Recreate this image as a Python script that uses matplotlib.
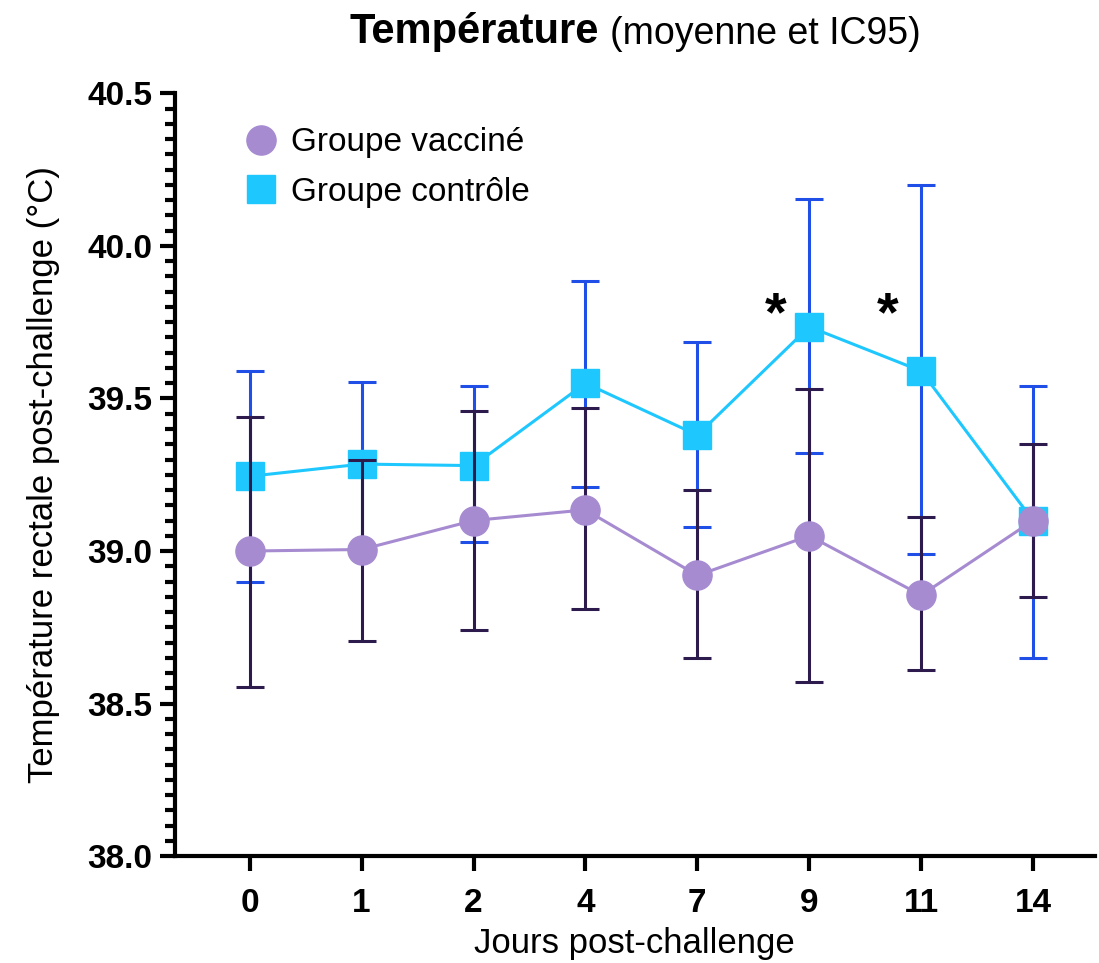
import matplotlib.pyplot as plt
from matplotlib.ticker import MultipleLocator
from matplotlib.lines import Line2D
import numpy as np

plt.rcParams['font.family'] = ['Liberation Sans', 'DejaVu Sans']

days = ['0', '1', '2', '4', '7', '9', '11', '14']

vacc_mean = [39.00, 39.005, 39.10, 39.135, 38.92, 39.05, 38.855, 39.10]
vacc_low = [38.555, 38.705, 38.74, 38.81, 38.65, 38.57, 38.61, 38.85]
vacc_high = [39.44, 39.30, 39.46, 39.47, 39.20, 39.53, 39.11, 39.35]

ctrl_mean = [39.245, 39.285, 39.28, 39.55, 39.38, 39.735, 39.59, 39.10]
ctrl_low = [38.90, 39.015, 39.03, 39.21, 39.08, 39.32, 38.99, 38.65]
ctrl_high = [39.59, 39.555, 39.54, 39.885, 39.685, 40.155, 40.20, 39.54]

# significance stars (day index, height)
star_idx = [5, 6]
star_y = 39.77

x = np.arange(len(days))
vm = np.array(vacc_mean)
cm = np.array(ctrl_mean)
v_err = [vm - np.array(vacc_low), np.array(vacc_high) - vm]
c_err = [cm - np.array(ctrl_low), np.array(ctrl_high) - cm]

c_vacc, c_ctrl = '#a68bd1', '#1ec8ff'

fig = plt.figure(figsize=(10.99, 9.63), dpi=100)
ax = fig.add_axes([0.159, 0.111, 0.837, 0.792])

ax.errorbar(x, cm, yerr=c_err, fmt='none', ecolor='#1f4fe6', elinewidth=2.2,
            capsize=10, capthick=2.2, zorder=1)
ax.plot(x, cm, '-', color=c_ctrl, lw=2.2, marker='s', ms=20,
        mec=c_ctrl, mfc=c_ctrl, zorder=2)
ax.errorbar(x, vm, yerr=v_err, fmt='none', ecolor='#2d1b4e', elinewidth=2.2,
            capsize=10, capthick=2.2, zorder=3)
ax.plot(x, vm, '-', color=c_vacc, lw=2.2, marker='o', ms=21,
        mec=c_vacc, mfc=c_vacc, zorder=4)

for i in star_idx:
    ax.text(x[i] - 0.3, star_y, '*', fontsize=40, fontweight='bold',
            ha='center', va='center')

ax.set_xlim(-0.67, 7.55)
ax.set_ylim(38.0, 40.5)
ax.set_xticks(x)
ax.set_xticklabels(days, fontsize=24, fontweight='bold')
ax.yaxis.set_major_locator(MultipleLocator(0.5))
ax.yaxis.set_minor_locator(MultipleLocator(0.05))
ax.set_yticks(ax.get_yticks())
ax.set_yticklabels([f'{v:.1f}' for v in ax.get_yticks()], fontsize=24, fontweight='bold')
ax.set_ylim(38.0, 40.5)

for sp in ['top', 'right']:
    ax.spines[sp].set_visible(False)
for sp in ['left', 'bottom']:
    ax.spines[sp].set_linewidth(3)
ax.tick_params(axis='both', which='major', length=11, width=3)
ax.tick_params(axis='x', which='major', pad=12)
ax.tick_params(axis='y', which='major', pad=5)
ax.tick_params(axis='y', which='minor', length=7, width=3)

ax.set_xlabel('Jours post-challenge', fontsize=25, labelpad=6)
ax.set_ylabel('Température rectale post-challenge (°C)', fontsize=25, labelpad=20)

handles = [
    Line2D([], [], ls='none', marker='o', ms=21, mfc=c_vacc, mec=c_vacc),
    Line2D([], [], ls='none', marker='s', ms=20, mfc=c_ctrl, mec=c_ctrl),
]
ax.legend(handles, ['Groupe vacciné', 'Groupe contrôle'], loc='upper left',
          bbox_to_anchor=(0.045, 0.995), frameon=False, fontsize=24,
          handlelength=0.9, handletextpad=0.45, labelspacing=0.55)

t1 = fig.text(0.318, 0.955, 'Température', fontsize=30, fontweight='bold',
              ha='left', va='baseline')
ax.annotate('(moyenne et IC95)', xy=(1, 0), xycoords=t1, xytext=(8, 0),
            textcoords='offset points', fontsize=27, ha='left', va='bottom')

fig.savefig('out.png', dpi=100)
